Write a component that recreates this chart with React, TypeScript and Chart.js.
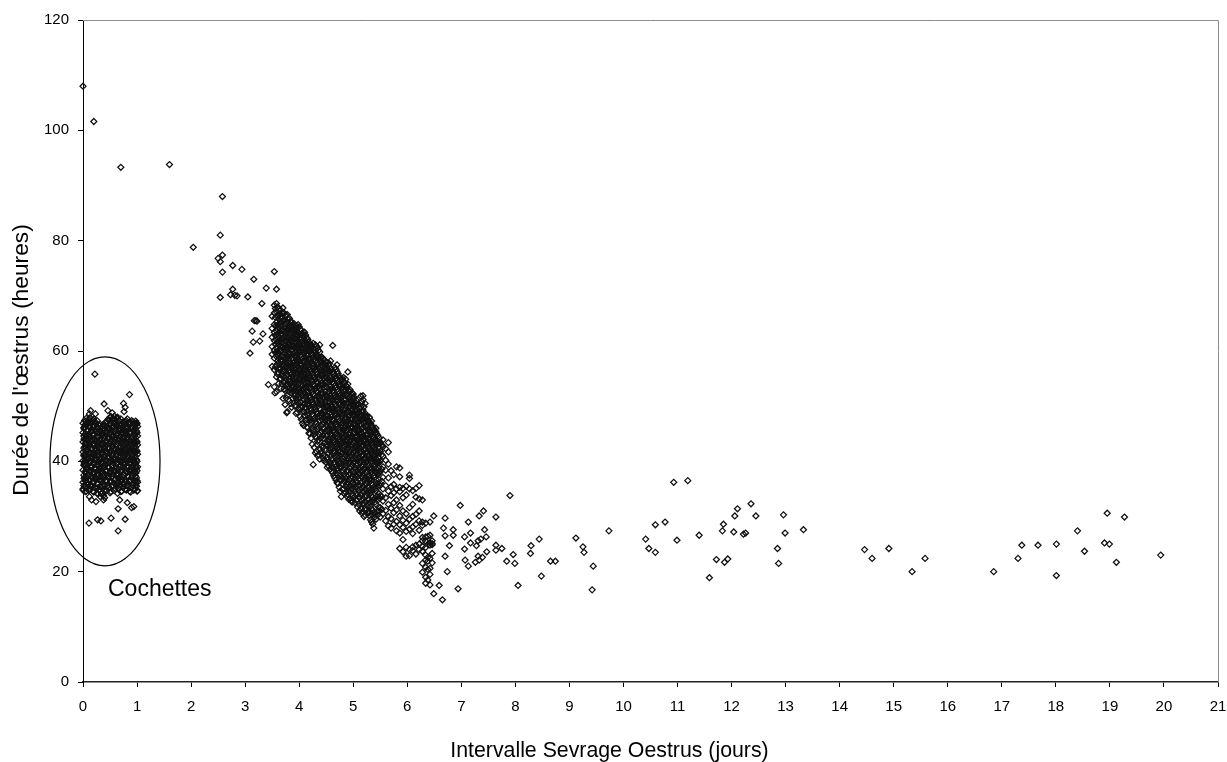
import React, { useEffect, useRef } from "react";
import { Chart, registerables } from "chart.js";

Chart.register(...registerables);

const xTicksMax = 21;
const yTicksMax = 120;
const xAxisTitle = "Intervalle Sevrage Oestrus (jours)";
const yAxisTitle = "Durée de l'œstrus (heures)";
const ellipseLabel = "Cochettes";
const ellipseCentre = [0.407, 40];
const ellipseRadii = [1.018, 18.95];

// Isolated points as x, y pairs
const outliersEarly = [
  0, 108, 0.2, 101.6, 0.7, 93.3, 1.6, 93.8, 2.58, 88, 2.54, 81, 2.04, 78.8, 2.58, 77.4, 2.5, 76.8, 2.54, 76.2,
  2.58, 74.3, 2.77, 75.5, 2.94, 74.8, 3.54, 74.4, 3.16, 73, 3.39, 71.4, 3.58, 71.2, 2.77, 71.2, 2.73, 70.2,
  2.81, 70.1, 2.85, 70, 2.54, 69.7, 3.05, 69.8, 3.31, 68.6, 3.2, 65.5, 3.17, 65.5, 3.22, 65.4, 3.13, 63.6,
  3.33, 63.1, 3.27, 61.8, 3.15, 61.6, 3.09, 59.6, 3.43, 53.9, 3.55, 52.4, 3.77, 48.8,
];
const outliersLate = [
  10.93, 36.2, 7.9, 33.8, 6.98, 32, 7.41, 31, 7.33, 30.1, 7.64, 29.9, 7.13, 29, 6.7, 29.7, 6.49, 30.1, 6.67, 27.9,
  6.85, 27.6, 6.85, 26.6, 6.7, 26.5, 7.17, 27, 7.06, 26.3, 7.43, 27.6, 7.46, 26.3, 7.36, 25.9, 7.31, 25.6, 7.17, 25.2,
  7.28, 24.7, 6.78, 24.7, 7.06, 24.1, 7.64, 24.8, 7.64, 23.9, 7.75, 24.2, 7.47, 23.6, 6.7, 22.8, 7.31, 22.8, 7.39, 22.6,
  7.07, 22.1, 7.33, 22.1, 7.26, 21.7, 7.13, 21, 6.74, 20, 7.84, 21.9, 7.99, 21.5, 7.96, 23.1, 8.28, 23.3, 8.29, 24.7,
  8.44, 25.9, 8.05, 17.5, 8.48, 19.2, 8.65, 21.9, 8.74, 21.9, 9.12, 26.1, 9.25, 24.5, 9.27, 23.5, 9.44, 21, 9.42, 16.7,
  9.73, 27.4, 10.41, 25.9, 10.47, 24.2, 10.59, 23.5, 10.59, 28.5, 10.77, 29, 10.99, 25.7, 6.94, 16.9, 6.59, 17.5,
  6.49, 16, 6.65, 14.9, 11.19, 36.5, 11.4, 26.6, 12.11, 31.4, 12.36, 32.3, 12.06, 30.1, 12.45, 30.1, 11.85, 28.6,
  11.83, 27.4, 12.04, 27.2, 12.22, 26.8, 12.26, 27, 11.72, 22.2, 11.93, 22.3, 11.87, 21.7, 11.59, 18.9, 12.85, 24.2,
  12.87, 21.5, 12.96, 30.3, 12.99, 27, 13.33, 27.6, 14.46, 24, 14.6, 22.4, 14.91, 24.2, 15.58, 22.4, 15.34, 20,
  16.85, 20, 17.3, 22.4, 17.37, 24.8, 17.67, 24.8, 18.01, 25, 18.01, 19.3, 18.4, 27.4, 18.53, 23.7, 18.9, 25.2,
  18.99, 25, 18.95, 30.6, 19.27, 29.9, 19.12, 21.7, 19.94, 23,
];
const giltOutliers = [
  0.22, 55.8, 0.86, 52.1, 0.39, 50.4, 0.75, 50.5, 0.78, 49.8, 0.46, 49.2, 0.54, 48.8, 0.76, 49, 0.14, 49.2, 0.12, 48.6,
  0.23, 48.6, 0.12, 33.6, 0.16, 33, 0.24, 32.7, 0.38, 33, 0.68, 33, 0.82, 32.5, 0.65, 31.4, 0.9, 31.6, 0.94, 31.8,
  0.11, 28.8, 0.27, 29.4, 0.33, 29.2, 0.52, 29.7, 0.78, 29.5, 0.65, 27.4, 0, 35,
];

// Gilt cluster: one x per column, and the y values read in it
const giltX = [0, 0.03, 0.06, 0.09, 0.13, 0.17, 0.2, 0.24, 0.28, 0.32, 0.36, 0.4, 0.44, 0.48, 0.52, 0.56, 0.6, 0.64, 0.68, 0.72, 0.76, 0.8, 0.84, 0.88, 0.92, 0.96, 0.99, 1.01];
const giltY = [
  [34.8, 36.2, 38.4, 40.1, 41.7, 43.5, 45.2, 46.9],
  [35.3, 37.1, 39.2, 40.9, 42.6, 44.1, 46.2, 47.4],
  [34.6, 36, 37.9, 39.6, 41.3, 43, 44.8, 46.5, 47.8],
  [35.8, 37.4, 38.7, 40.5, 42.1, 43.8, 45.5, 47],
  [34.9, 36.6, 38.2, 40, 41.6, 42.9, 44.4, 46.1, 47.9],
  [35.5, 37, 39.1, 40.7, 42.3, 44, 45.7, 47.3],
  [34.4, 36.3, 38, 39.5, 41.2, 43.2, 44.9, 46.6, 47.7],
  [35, 36.9, 38.6, 40.3, 41.9, 43.6, 45.3, 46.8],
  [34.1, 35.9, 37.6, 39.3, 41, 42.7, 44.4, 46],
  [33.6, 35.4, 37.2, 39, 40.6, 42.4, 44.1, 45.6, 46.7],
  [34.3, 36.1, 38.1, 39.8, 41.5, 43.3, 45, 46.3],
  [33.4, 35.7, 37.5, 39.4, 41.1, 42.8, 44.6, 46.4],
  [34.7, 36.5, 38.3, 40.2, 41.8, 43.7, 45.4, 47.1],
  [35.2, 37.3, 38.9, 40.8, 42.5, 44.2, 45.9, 47.5],
  [34.5, 36.4, 38.5, 40.4, 42, 43.9, 45.6, 47.2, 48.1],
  [35.6, 37.7, 39.7, 41.4, 43.1, 44.7, 46.2, 47.8],
  [35.1, 36.8, 38.8, 40.6, 42.2, 44.3, 45.8, 47.6],
  [34.2, 36.2, 37.8, 39.9, 41.7, 43.4, 45.1, 46.9, 48],
  [35.4, 37.2, 39.1, 40.8, 42.6, 44.5, 46, 47.3],
  [34.6, 36.7, 38.4, 40.1, 41.9, 43.6, 45.3, 46.7],
  [35.9, 37.5, 39.4, 41.2, 42.9, 44.6, 46.4],
  [34.8, 36.3, 38.2, 40, 41.6, 43.3, 45, 46.2, 47.4],
  [35.3, 37.1, 38.9, 40.7, 42.4, 44, 45.7, 47],
  [34.4, 36.6, 38.6, 40.4, 42.1, 43.8, 45.2, 46.8],
  [35.7, 37.4, 39.3, 41.1, 42.7, 44.4, 46.1, 47.2],
  [34.9, 36.4, 38, 39.8, 41.5, 43.2, 44.9, 46.6],
  [35.5, 37, 38.7, 40.3, 42, 43.7, 45.5, 47],
  [34.7, 36.2, 39, 41.3, 43, 44.6, 46.3],
];
const giltX2 = [0.015, 0.045, 0.075, 0.11, 0.15, 0.185, 0.22, 0.26, 0.3, 0.34, 0.38, 0.42, 0.46, 0.5, 0.54, 0.58, 0.62, 0.66, 0.7, 0.74, 0.78, 0.82, 0.86, 0.9, 0.94, 0.975, 1.0];
const giltY2 = [
  [35.6, 37.5, 39.3, 41, 42.4, 44.6, 46.1],
  [34.5, 36.4, 38.2, 40.2, 41.9, 43.3, 45, 46.7],
  [35.2, 37, 38.8, 40.7, 42.2, 43.9, 45.7, 47.1],
  [34.7, 36.7, 38.3, 39.9, 41.5, 43.4, 44.9, 46.4, 47.6],
  [35.5, 37.3, 39, 40.9, 42.3, 43.7, 45.4, 46.9],
  [34.6, 36.1, 37.8, 39.7, 41.4, 43, 44.7, 46.2, 47.5],
  [35.3, 37.2, 38.9, 40.6, 42.4, 44, 45.8, 47.2],
  [34.2, 36, 37.7, 39.4, 41.1, 42.8, 44.5, 46.2, 47.4],
  [34.8, 36.6, 38.4, 40, 41.7, 43.4, 45.1, 46.5],
  [34.1, 36.5, 38.3, 39.9, 41.4, 43, 44.8, 46.2],
  [33.8, 35.5, 37.3, 39.2, 40.9, 42.6, 44.3, 45.7, 46.8],
  [34.6, 36.4, 38.2, 40, 41.7, 43.5, 45.3, 47],
  [35.5, 37.1, 39, 40.6, 42.4, 44.1, 45.9, 47.6],
  [34.3, 36.2, 37.9, 39.7, 41.5, 43.2, 45, 46.7, 48],
  [35.4, 37.2, 39.2, 41, 42.7, 44.4, 46.1, 47.7],
  [34.7, 36.6, 38.4, 40.2, 41.9, 43.6, 45.3, 46.9, 48.2],
  [35.7, 37.5, 39.5, 41.2, 42.9, 44.7, 46.4, 47.9],
  [35, 36.8, 38.6, 40.3, 42, 43.8, 45.6, 47.4],
  [34.5, 36.3, 38.1, 39.8, 41.5, 43.2, 45, 46.6, 47.7],
  [35.3, 37.1, 39, 40.7, 42.4, 44.1, 45.9, 47.1],
  [34.9, 36.7, 38.5, 40.4, 42.1, 43.8, 45.5, 47.2],
  [35.6, 37.4, 39.2, 41, 42.7, 44.4, 46.2, 47.7],
  [34.6, 36.5, 38.3, 40.2, 41.9, 43.5, 45.3, 46.9],
  [35.2, 37, 38.9, 40.6, 42.3, 44.1, 45.8, 47.4],
  [34.8, 36.7, 38.5, 40.3, 42, 43.6, 45.4, 46.9],
  [35.6, 37.3, 39.1, 40.9, 42.6, 44.3, 46, 47.3],
  [34.6, 36.5, 38.3, 40, 41.8, 43.5, 45.2, 46.8],
];
const giltX3 = [0.02, 0.08, 0.14, 0.21, 0.27, 0.33, 0.39, 0.45, 0.51, 0.57, 0.63, 0.69, 0.75, 0.81, 0.87, 0.93, 0.98];
const giltY3 = [
  [36.9, 39.5, 41.2, 44, 45.9],
  [36.2, 38.4, 40.2, 42.7, 44.3, 46.7],
  [35.7, 38.1, 39.8, 41.3, 43.6, 45.3, 47.1],
  [36.8, 38.7, 40.9, 42.9, 44.2, 46.4],
  [35.2, 37.3, 39.9, 41.6, 43.2, 45.1],
  [36.7, 38.6, 40.3, 42, 43.7, 45.4],
  [34.7, 36.9, 38.8, 40.5, 42.2, 44, 45.8],
  [35.5, 37.6, 39.6, 41.4, 43, 44.9, 46.4],
  [36.3, 38.2, 39.9, 41.8, 43.6, 45.1, 46.7],
  [36.1, 38.3, 40.5, 42.4, 44.1, 46.4],
  [35.4, 37.4, 39.6, 41.2, 43, 44.8, 46.4],
  [36.6, 38.3, 40.1, 41.9, 43.9, 45.6],
  [35.3, 37.6, 39.7, 41.6, 43.1, 45.1, 46.9],
  [35.7, 38, 40.5, 42.1, 44, 46],
  [36.4, 38.2, 39.5, 41.4, 42.9, 45.1, 47.1],
  [36.1, 38.1, 40.1, 41.9, 43.5, 45.6],
  [36, 37.9, 39.7, 41.7, 43.4, 45, 46.7],
];

// Sows' main cloud: one x per column, and the y values read in it
const sowX = [3.5, 3.54, 3.58, 3.62, 3.66, 3.7, 3.74, 3.78, 3.82, 3.86, 3.9, 3.94, 3.98, 4.02, 4.06, 4.1, 4.14, 4.18, 4.22, 4.26, 4.3, 4.34, 4.38, 4.42, 4.46, 4.5, 4.54, 4.58, 4.62, 4.66, 4.7, 4.74, 4.78, 4.82, 4.86, 4.9, 4.94, 4.98, 5.02, 5.06, 5.1, 5.14, 5.18, 5.22, 5.26, 5.3, 5.34, 5.38, 5.42, 5.46, 5.5, 5.55, 5.6, 5.65, 5.7, 5.75, 5.8, 5.86, 5.92, 5.98, 6.04, 6.1, 6.16, 6.22, 6.28, 6.34, 6.38, 6.42, 6.46];
const sowY = [
  [57.2, 59.4, 60.8, 62.5, 64.1, 66.3],
  [53.5, 56.6, 58.7, 60.2, 61.9, 63.4, 64.8, 66.9, 68.3],
  [52.6, 55.3, 57.5, 59, 60.5, 62, 63.6, 65.2, 67.1, 68.6],
  [54.1, 56, 57.9, 59.6, 61.1, 62.7, 64.2, 65.8, 67.6],
  [53.2, 55, 56.8, 58.3, 60, 61.5, 63, 64.5, 66.2, 67.4],
  [51.4, 54.4, 56.2, 57.7, 59.2, 60.7, 62.3, 63.9, 65.4, 66.8, 67.8],
  [50.3, 52.8, 55.1, 57, 58.6, 60.2, 61.8, 63.3, 64.9, 66.4],
  [49, 52, 54, 55.7, 57.3, 59, 60.6, 62.2, 63.7, 65.3, 66.6],
  [51, 53.3, 55, 56.5, 58.1, 59.6, 61.2, 62.8, 64.3, 65.9],
  [49.8, 52.4, 54.2, 55.9, 57.6, 59.2, 60.8, 62.4, 63.8, 65.2],
  [50.6, 52.9, 54.7, 56.3, 57.9, 59.5, 61, 62.6, 64, 65],
  [48.7, 51.5, 53.5, 55.2, 56.8, 58.4, 60, 61.6, 63.1, 64.6],
  [49.6, 52, 53.9, 55.5, 57.1, 58.7, 60.3, 61.9, 63.4, 64.8],
  [48.1, 50.8, 52.7, 54.5, 56.1, 57.7, 59.3, 60.9, 62.5, 64],
  [46.9, 49.9, 51.9, 53.7, 55.4, 57, 58.6, 60.2, 61.7, 63.2],
  [48.3, 50.4, 52.3, 54, 55.7, 57.3, 58.9, 60.5, 62.1, 63.4],
  [46.2, 49, 51.1, 52.9, 54.6, 56.3, 57.9, 59.5, 61, 62.4],
  [45.1, 47.8, 50, 51.8, 53.6, 55.2, 56.9, 58.5, 60.1, 61.6],
  [44.2, 47, 49.2, 51.2, 53, 54.7, 56.4, 58, 59.6, 61],
  [39.4, 45.6, 48.2, 50.3, 52.2, 54, 55.7, 57.3, 58.9, 60.4, 61.4],
  [41.5, 44.5, 47.2, 49.4, 51.4, 53.2, 54.9, 56.6, 58.2, 59.8, 61.1],
  [41, 43.6, 46.3, 48.6, 50.6, 52.4, 54.1, 55.8, 57.4, 59, 60.6],
  [40.4, 44.8, 47.4, 49.6, 51.5, 53.3, 55, 56.7, 58.3, 59.8, 61.1],
  [42.8, 45.4, 47.6, 48.8, 50.7, 52.5, 54.2, 55.9, 57.5, 58.9],
  [40.1, 43.2, 45.9, 47.9, 49.8, 51.7, 53.4, 55.1, 56.8, 58.4],
  [39.8, 42.1, 44.6, 46.6, 48.3, 50, 51.8, 53.5, 55.2, 56.6, 58],
  [39.2, 41.4, 43.5, 45.5, 47.3, 49.1, 50.9, 52.6, 54.3, 55.9, 57.4],
  [38.6, 40.9, 43, 44.9, 46.7, 48.4, 50.1, 51.9, 53.6, 55.2, 56.9, 58.2],
  [37.9, 40.2, 42.4, 44.2, 46, 47.7, 49.4, 51.1, 52.8, 54.4, 56.2, 61],
  [37, 39.5, 41.6, 43.5, 45.3, 47, 48.6, 50.3, 52, 53.7, 55.4, 57],
  [36.1, 38.7, 40.9, 42.9, 44.6, 46.3, 48, 49.7, 51.3, 53, 54.7, 56.3, 57.5],
  [35.3, 37.9, 40.1, 42.1, 44, 45.7, 47.3, 49, 50.6, 52.3, 54, 55.4],
  [33.6, 36.6, 39, 41.3, 43.2, 45, 46.6, 48.2, 49.9, 51.6, 53.3, 55],
  [35, 37.6, 40, 42, 43.9, 45.6, 47.2, 48.8, 50.4, 52.1, 53.8, 55.2],
  [34.4, 36.9, 39.2, 41.2, 43.1, 44.8, 46.4, 48, 49.6, 51.3, 53, 54.9],
  [34, 36.2, 38.4, 40.6, 42.5, 44.3, 45.9, 47.5, 49.1, 50.8, 52.4, 54, 56.2],
  [33.3, 35.6, 37.8, 39.9, 41.8, 43.6, 45.2, 46.8, 48.4, 50, 51.7, 53],
  [32.6, 35, 37.2, 39.3, 41.2, 43, 44.6, 46.2, 47.8, 49.4, 51, 52.4],
  [33.6, 35.9, 38, 40, 41.9, 43.7, 45.3, 46.9, 48.5, 50.1, 51.6],
  [33, 35.3, 37.4, 39.4, 41.3, 43.1, 44.7, 46.3, 47.9, 49.5, 51],
  [32.2, 34.6, 36.8, 38.8, 40.7, 42.5, 44.1, 45.7, 47.3, 48.9, 50.4],
  [31.4, 33.9, 36.1, 38.2, 40.1, 41.9, 43.6, 45.2, 46.8, 48.3, 49.9, 51.8],
  [30.9, 33.3, 35.5, 37.6, 39.5, 41.3, 43, 44.6, 46.2, 47.8, 49.3, 51.2, 51.9],
  [30.3, 32.7, 34.9, 37, 38.9, 40.7, 42.4, 44, 45.6, 47.2, 48.7, 50.5],
  [31.9, 34.2, 36.3, 38.3, 40.1, 41.8, 43.4, 45, 46.6, 48.2],
  [30.1, 32.5, 34.8, 36.9, 38.8, 40.6, 42.3, 43.9, 45.5, 47.1, 48],
  [29, 31.4, 33.8, 36, 38.1, 40, 41.7, 43.3, 44.9, 46.5, 47.3],
  [27.9, 30.7, 33.1, 35.3, 37.4, 39.3, 41.1, 42.7, 44.3, 45.9],
  [29.5, 32.2, 34.6, 36.7, 38.7, 40.5, 42.1, 43.7, 45.3, 46],
  [30.3, 33, 35.4, 37.7, 39.7, 41.5, 43.2, 44.6],
  [29.9, 31.6, 33.8, 36, 38.1, 40, 41.8, 43.5],
  [30.5, 32.8, 35, 37.1, 39, 40.9, 42.6, 43.9],
  [29.2, 31.1, 33.4, 35.6, 38.4, 40.2, 42.3],
  [28.3, 30, 32.2, 34.6, 37, 39.5, 41.7, 43.4],
  [27.9, 29.6, 31.5, 33.8, 35.4, 38.3],
  [28.6, 30.7, 32.5, 34.3, 35.8, 37.6],
  [27.4, 29.1, 31.2, 33, 35, 39],
  [24.2, 27, 28.5, 30.1, 32, 34.5, 35.3, 37.2, 38.8],
  [23.6, 25.8, 28, 29.3, 31, 33.4, 35.1],
  [22.8, 24.4, 27.3, 28.8, 30.5, 33.9, 35.5],
  [22.9, 24, 27.7, 29.5, 31.6, 35, 36.9, 37.5],
  [23.8, 24.5, 26.9, 28.1, 30, 32.2, 34.7],
  [23.2, 24.8, 28.6, 30.4, 33.5, 35.1],
  [24, 25, 27.5, 29.2, 31, 33.2, 35.6],
  [19.9, 21.5, 23.7, 24.6, 25.6, 26.2, 28.4, 29, 33],
  [17.9, 19, 20.8, 22.1, 23, 24.4, 25.5, 26.3, 28.8],
  [18.5, 20.4, 21.9, 22.6, 25, 26.4],
  [17.6, 19.5, 20.6, 22.4, 24.8, 25.2, 26.6, 29],
  [21.6, 23.3, 24.9, 25.1, 25.6],
];
const sowX2 = [3.56, 3.6, 3.64, 3.68, 3.72, 3.76, 3.8, 3.84, 3.88, 3.92, 3.96, 4, 4.04, 4.08, 4.12, 4.16, 4.2, 4.24, 4.28, 4.32, 4.36, 4.4, 4.44, 4.48, 4.52, 4.56, 4.6, 4.64, 4.68, 4.72, 4.76, 4.8, 4.84, 4.88, 4.92, 4.96, 5, 5.04, 5.08, 5.12, 5.16, 5.2, 5.24, 5.28, 5.32, 5.36, 5.4, 5.44, 5.48];
const sowY2 = [
  [57.1, 59.7, 61.2, 62.8, 64.5, 66.1, 67.7],
  [55.8, 58.2, 59.9, 61.5, 63.1, 64.7, 66.4, 68],
  [54.9, 57, 58.8, 60.3, 62, 63.5, 65.1, 66.7],
  [54, 55.8, 57.4, 59, 60.6, 62.1, 63.7, 65.2, 66.9],
  [53.1, 55.5, 57.3, 58.9, 60.5, 62.1, 63.6, 65.6, 66.9],
  [51.5, 53.7, 55.5, 57.2, 58.8, 60.4, 61.9, 63.5, 65.1, 66.5],
  [52.7, 54.6, 56.3, 57.8, 59.4, 61, 62.5, 64.1, 65.7],
  [50.5, 53, 54.6, 56.2, 57.8, 59.4, 61, 62.6, 64.1, 65.4],
  [51.4, 53.6, 55.4, 57.1, 58.7, 60.3, 61.8, 63.3, 64.7],
  [50, 52.2, 54.1, 55.8, 57.4, 59, 60.6, 62.2, 63.7],
  [48.9, 51, 52.8, 54.6, 56.2, 57.9, 59.5, 61.1, 62.7, 64.1],
  [49.5, 51.4, 53.2, 54.9, 56.6, 58.2, 59.8, 61.4, 63, 64.4],
  [47.6, 50, 52.1, 53.9, 55.7, 57.3, 58.9, 60.5, 62.1, 63.7],
  [46.5, 49.1, 51.2, 53.1, 54.8, 56.5, 58.1, 59.7, 61.3, 62.8],
  [47.5, 49.7, 51.6, 53.4, 55.1, 56.8, 58.4, 60, 61.5, 62.9],
  [46.1, 48.4, 50.5, 52.4, 54.2, 55.9, 57.5, 59.1, 60.7, 62.1],
  [45, 47.4, 49.6, 51.5, 53.3, 55, 56.6, 58.3, 59.9, 61.4],
  [43.1, 46, 48.5, 50.7, 52.6, 54.4, 56, 57.7, 59.3, 60.8],
  [42.5, 45.4, 47.8, 49.9, 51.9, 53.7, 55.4, 57, 58.6, 60.2],
  [41.8, 44.2, 46.8, 49, 51, 52.8, 54.5, 56.2, 57.8, 59.4, 60.9],
  [41.2, 43.9, 46.1, 48.2, 50.1, 51.9, 53.6, 55.3, 56.9, 58.5, 60.1],
  [41.6, 44.2, 46.5, 48.4, 50.3, 52.1, 53.8, 55.5, 57.1, 58.7],
  [40.6, 42.5, 44.7, 46.7, 48.5, 50.4, 52.2, 53.9, 55.6, 57.2, 58.6],
  [40.9, 43.4, 45.4, 47.3, 49.1, 50.9, 52.7, 54.4, 56, 57.6],
  [38.9, 40.7, 42.8, 44.8, 46.4, 48.2, 50, 51.7, 53.4, 55.1, 56.7, 57.9],
  [39.9, 42, 44, 46, 47.8, 49.6, 51.4, 53, 54.7, 56.4, 57.7],
  [38.2, 40.4, 42.6, 44.6, 46.4, 48.1, 49.8, 51.5, 53.2, 54.9, 56.5],
  [37.4, 39.8, 41.9, 43.8, 45.6, 47.3, 49, 50.7, 52.4, 54.1, 55.8],
  [36.6, 39, 41.2, 43.2, 45, 46.7, 48.3, 50, 51.7, 53.4, 55, 56.7],
  [36, 38.4, 40.5, 42.5, 44.3, 46, 47.7, 49.4, 51, 52.7, 54.4, 55.9],
  [34.6, 37.4, 39.6, 41.7, 43.6, 45.4, 47, 48.6, 50.3, 51.9, 53.6, 55.2],
  [34.9, 37, 39.3, 41.5, 43.4, 45.2, 46.9, 48.5, 50.1, 51.8, 53.5, 54.9],
  [34.1, 36.3, 38.6, 40.7, 42.6, 44.4, 46, 47.7, 49.3, 51, 52.6, 54.3],
  [33.7, 35.8, 38.1, 40.1, 42, 43.8, 45.5, 47.1, 48.8, 50.4, 52.1, 53.6],
  [33.1, 35.3, 37.5, 39.6, 41.5, 43.3, 44.9, 46.5, 48.1, 49.7, 51.4, 52.8],
  [32.9, 34.9, 37, 39, 40.9, 42.7, 44.4, 46, 47.6, 49.2, 50.8, 52.2],
  [33.3, 35.4, 37.6, 39.7, 41.6, 43.4, 45, 46.6, 48.2, 49.8, 51.3, 52.2],
  [32.4, 34.7, 36.9, 38.9, 40.8, 42.6, 44.3, 45.9, 47.5, 49.1, 50.7],
  [31.7, 34, 36.2, 38.3, 40.2, 42, 43.7, 45.3, 46.9, 48.5, 50.2],
  [31, 33.5, 35.7, 37.8, 39.7, 41.5, 43.2, 44.9, 46.5, 48.1, 49.6],
  [30.6, 32.9, 35.1, 37.2, 39.1, 40.9, 42.6, 44.3, 45.9, 47.5, 49, 50.8],
  [30, 32.3, 34.5, 36.6, 38.5, 40.3, 42, 43.7, 45.3, 46.9, 48.4, 49.9],
  [31.2, 33.6, 35.8, 37.9, 39.8, 41.5, 43.1, 44.7, 46.3, 47.9],
  [30.6, 33, 35.2, 37.2, 39.1, 40.9, 42.6, 44.2, 45.8, 47.4],
  [29.4, 31.9, 34.3, 36.5, 38.5, 40.3, 42, 43.6, 45.2, 46.8],
  [28.6, 31.1, 33.5, 35.7, 37.8, 39.7, 41.4, 43, 44.6, 46.2],
  [29.9, 32.6, 35, 37.1, 39, 40.8, 42.4, 44, 45.6],
  [30.9, 33.6, 35.9, 38, 39.9, 41.7, 43.4, 44.9],
  [31, 33.4, 35.7, 37.9, 39.8, 41.6, 43.3, 44.2],
];
const sowX3 = [3.61, 3.67, 3.73, 3.79, 3.85, 3.91, 3.97, 4.03, 4.09, 4.15, 4.21, 4.27, 4.33, 4.39, 4.45, 4.51, 4.57, 4.63, 4.69, 4.75, 4.81, 4.87, 4.93, 4.99, 5.05, 5.11, 5.17, 5.23, 5.29, 5.35, 5.41, 5.47, 5.53];
const sowY3 = [
  [56.8, 59.3, 61.8, 64.4, 66.3],
  [55.6, 58.1, 60.9, 63.2, 65.9],
  [54.3, 56.6, 59.7, 62.6, 64.3],
  [53.4, 56.9, 58.4, 61.3, 63.9],
  [52.9, 55.2, 57.2, 60.1, 62.1, 64.6],
  [51.9, 54.3, 56.9, 59.1, 61.7, 63.3],
  [50.7, 53.1, 55.9, 58.2, 60.7, 62.8],
  [49.7, 52.3, 54.9, 57.4, 59.9, 62],
  [48.9, 51.2, 53.5, 56, 58.1, 60.9, 62.6],
  [47.6, 50.3, 52.6, 55, 57.2, 59.2, 61.4],
  [46.6, 49.5, 51.7, 54, 56.2, 58.7, 60.5],
  [44.9, 47.6, 50.5, 53, 55.2, 57.6, 59.7],
  [43, 45.8, 48.7, 51.7, 54.3, 56.7, 58.8],
  [42.2, 45.2, 48, 50.9, 53, 55.8, 58],
  [41.2, 44.1, 47, 49.2, 51.4, 53.9, 56.2, 57.8],
  [40.6, 43.1, 45.7, 47.7, 49.7, 52, 54.4, 56.2],
  [39.6, 42.4, 44.4, 46.5, 48.8, 50.8, 53, 55.4],
  [38.8, 41.3, 43.3, 45.4, 47.5, 49.7, 51.9, 54, 55.9],
  [37.8, 40.2, 42.3, 44.2, 46.6, 48.7, 50.9, 53.4, 55],
  [36.7, 39, 41, 43.1, 45.3, 47.4, 49.6, 51.4, 53.7],
  [35.9, 38.2, 40.4, 42.4, 44.4, 46.4, 48.4, 50.7, 52.9],
  [35.4, 37.4, 39.7, 41.7, 43.6, 45.6, 47.7, 49.9, 52, 53.7],
  [34.6, 36.7, 38.9, 40.9, 42.9, 44.8, 47, 49, 51, 52.6],
  [33.8, 36, 38.1, 40.3, 42.3, 44.2, 46.2, 48.3, 50.3, 51.6],
  [34.2, 36.4, 38.6, 40.5, 42.5, 44.4, 46.6, 48.6, 50.3],
  [33.4, 35.5, 37.7, 39.9, 41.7, 43.6, 45.8, 47.8, 49.6],
  [32.3, 34.6, 37, 39, 41, 42.9, 45, 47.1, 48.9],
  [31.5, 33.9, 36.1, 38, 40.3, 42.2, 44.3, 46.2, 48.2],
  [31, 33.1, 35.4, 37.5, 39.4, 41.2, 43.4, 45.3, 47.3],
  [30.3, 32.7, 34.8, 36.7, 38.7, 40.7, 42.5, 44.4, 46.1],
  [30.5, 33.3, 35.6, 38, 39.9, 41.6, 43.4, 45],
  [31.7, 34.2, 36.7, 38.8, 40.6, 42.5],
  [31.3, 33.6, 36.4, 38.6, 41.2, 43],
];

const fromPairs = (flat: number[]) => {
  const out: { x: number; y: number }[] = [];
  for (let i = 0; i < flat.length; i += 2) out.push({ x: flat[i], y: flat[i + 1] });
  return out;
};
const fromColumns = (xs: number[], ys: number[][]) =>
  xs.flatMap((x, i) => ys[i].map((y) => ({ x, y })));

const FONT = '"Liberation Sans", Arial, sans-serif';

const decorations = {
  id: "decorations",
  afterDraw(chart: any) {
    const { ctx, scales, chartArea } = chart;
    const { x, y } = scales;
    ctx.save();
    // grey frame on the top and right of the plot
    ctx.strokeStyle = "#8c8c8c";
    ctx.lineWidth = 1;
    ctx.beginPath();
    ctx.moveTo(chartArea.left, chartArea.top + 0.5);
    ctx.lineTo(chartArea.right + 0.5, chartArea.top + 0.5);
    ctx.lineTo(chartArea.right + 0.5, chartArea.bottom);
    ctx.stroke();
    // ellipse round the gilts
    const cx = x.getPixelForValue(ellipseCentre[0]);
    const cy = y.getPixelForValue(ellipseCentre[1]);
    const rx = x.getPixelForValue(ellipseCentre[0] + ellipseRadii[0]) - cx;
    const ry = cy - y.getPixelForValue(ellipseCentre[1] + ellipseRadii[1]);
    ctx.strokeStyle = "#000";
    ctx.lineWidth = 1.2;
    ctx.beginPath();
    ctx.ellipse(cx, cy, rx, ry, 0, 0, Math.PI * 2);
    ctx.stroke();
    // texts
    ctx.fillStyle = "#000";
    ctx.textBaseline = "middle";
    ctx.textAlign = "left";
    ctx.font = `23px ${FONT}`;
    ctx.fillText(ellipseLabel, 108, 590);
    ctx.textAlign = "center";
    ctx.font = `21.3px ${FONT}`;
    ctx.fillText(xAxisTitle, 609.5, 751);
    ctx.translate(22, 360);
    ctx.rotate(-Math.PI / 2);
    ctx.font = `22.8px ${FONT}`;
    ctx.fillText(yAxisTitle, 0, 0);
    ctx.restore();
  },
};

export default function App() {
  const ref = useRef<HTMLCanvasElement>(null);
  useEffect(() => {
    const points = [
      ...fromPairs(outliersEarly),
      ...fromPairs(outliersLate),
      ...fromPairs(giltOutliers),
      ...fromColumns(giltX, giltY),
      ...fromColumns(giltX2, giltY2),
      ...fromColumns(giltX3, giltY3),
      ...fromColumns(sowX, sowY),
      ...fromColumns(sowX2, sowY2),
      ...fromColumns(sowX3, sowY3),
    ];
    const axisGrid = { drawOnChartArea: false, drawTicks: true, tickLength: 5, color: "#000" };
    const chart = new Chart(ref.current as HTMLCanvasElement, {
      type: "scatter",
      data: {
        datasets: [
          {
            data: points,
            pointStyle: "rectRot",
            pointRadius: 3,
            pointBorderWidth: 1.25,
            pointBorderColor: "#111",
            pointBackgroundColor: "rgba(255,255,255,0)",
            clip: false,
          } as any,
        ],
      },
      options: {
        responsive: false,
        animation: false,
        layout: { padding: { left: 0, top: 20, right: 0, bottom: 0 } },
        plugins: { legend: { display: false }, tooltip: { enabled: false } },
        scales: {
          x: {
            type: "linear",
            min: 0,
            max: xTicksMax,
            grid: axisGrid,
            border: { color: "#222", width: 1.5 },
            ticks: { stepSize: 1, autoSkip: false, maxRotation: 0, color: "#000", padding: 11, font: { family: FONT, size: 15 } },
            afterFit(scale: any) {
              scale.height = 80;
              scale.paddingLeft = 0;
              scale.paddingRight = 9;
            },
          },
          y: {
            type: "linear",
            min: 0,
            max: yTicksMax,
            grid: axisGrid,
            border: { color: "#000", width: 1 },
            ticks: { stepSize: 20, color: "#000", padding: 9, font: { family: FONT, size: 15 } },
            afterFit(scale: any) {
              scale.width = 83;
            },
          },
        },
      } as any,
      plugins: [decorations],
    });
    return () => chart.destroy();
  }, []);
  return (
    <div style={{ position: "absolute", left: 0, top: 0, width: 1227, height: 762, background: "#fff" }}>
      <canvas ref={ref} width={1227} height={762} style={{ display: "block" }} />
    </div>
  );
}
